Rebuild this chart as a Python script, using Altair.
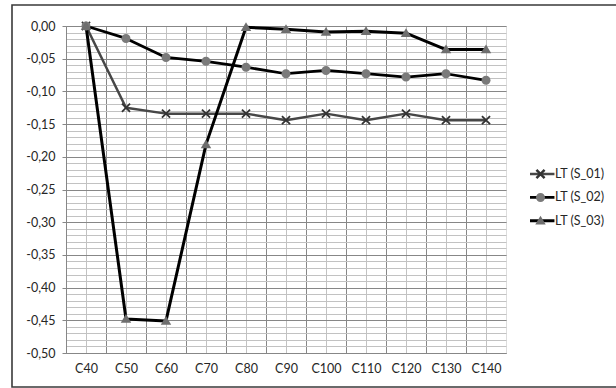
import altair as alt
import numpy as np
import pandas as pd

# Categories on the x axis and the three measured series
categories = ["C40", "C50", "C60", "C70", "C80", "C90", "C100", "C110", "C120", "C130", "C140"]
series_keys = ["S_01", "S_02", "S_03"]
series_labels = ["LT (S_01)", "LT (S_02)", "LT (S_03)"]
s01 = [0.0, -0.125, -0.134, -0.134, -0.134, -0.144, -0.134, -0.144, -0.134, -0.144, -0.144]
s02 = [0.0, -0.019, -0.048, -0.054, -0.063, -0.073, -0.068, -0.073, -0.078, -0.073, -0.083]
s03 = [0.0, -0.448, -0.451, -0.181, -0.002, -0.005, -0.009, -0.008, -0.011, -0.036, -0.036]

rows = []
for key, label, vals in zip(series_keys, series_labels, [s01, s02, s03]):
    for cat, v in zip(categories, vals):
        rows.append({"cat": cat, "key": key, "label": label, "value": v})
df = pd.DataFrame(rows)

FONT = "Lato"
FSIZE = 12.5
TEXT = "#262626"
MAJOR = "#878787"
MINOR = "#c2c2c2"

major_ticks = [round(v, 2) for v in np.arange(0, -0.5001, -0.05)]
minor_ticks = [round(v, 2) for v in np.arange(0, -0.5001, -0.01)]

y_label_expr = "replace(replace(format(datum.value, '.2f'), '.', ','), '\u2212', '-')"

# Marker paths (line segment kept out so plot markers stay compact)
x_path = "M-0.45,-0.45L0.45,0.45M-0.45,0.45L0.45,-0.45"
circle_path = "M0.5,0A0.5,0.5 0 1,1 -0.5,0A0.5,0.5 0 1,1 0.5,0Z"
tri_path = "M0,-0.55L0.58,0.42L-0.58,0.42Z"

SYM = 324
LEG_X = 464
LEG_Y = 139
ROW_H = 18
ROW_PAD = 5.4

xscale = alt.Scale(domain=categories, padding=0.5)
yscale = alt.Scale(domain=[-0.5, 0], nice=False, zero=False)

# Lines: light grid (category centres and every 0.01) plus category labels
lines = alt.Chart(df).mark_line(strokeJoin="round").encode(
    x=alt.X("cat:N", sort=categories, scale=xscale,
            axis=alt.Axis(title=None, orient="bottom", grid=True, gridColor=MINOR, gridWidth=1,
                          ticks=False, domain=False, labelAngle=0, labelFont=FONT,
                          labelFontSize=FSIZE, labelColor=TEXT, labelPadding=9)),
    y=alt.Y("value:Q", scale=yscale,
            axis=alt.Axis(title=None, orient="left", values=minor_ticks, grid=True,
                          gridColor=MINOR, gridWidth=1, ticks=False, labels=False,
                          domain=False)),
    color=alt.Color("label:N", scale=alt.Scale(domain=series_labels,
                                               range=["#474747", "#000000", "#000000"]),
                    legend=alt.Legend(title=None, orient="none", legendX=LEG_X, legendY=LEG_Y,
                                      symbolType="M-1.55,0H1.55", symbolSize=SYM,
                                      symbolStrokeWidth=2.5, labelFont=FONT, labelFontSize=FSIZE,
                                      labelColor=TEXT, labelOffset=4, clipHeight=ROW_H,
                                      rowPadding=ROW_PAD)),
    strokeWidth=alt.StrokeWidth("label:N", scale=alt.Scale(domain=series_labels,
                                                          range=[2.5, 3, 3]), legend=None),
    detail="label:N",
)

marker_legend = alt.Legend(title=None, orient="none", legendX=LEG_X, legendY=LEG_Y,
                           symbolSize=SYM, symbolStrokeWidth=2.5, labelExpr="''",
                           labelFontSize=FSIZE, clipHeight=ROW_H, rowPadding=ROW_PAD)

# Markers: dark grid (category boundaries and every 0.05) plus value labels
points = alt.Chart(df).mark_point(size=SYM, strokeWidth=1.8, opacity=1).encode(
    x=alt.X("cat:N", sort=categories, scale=xscale,
            axis=alt.Axis(title=None, orient="bottom", grid=True, gridColor=MAJOR, gridWidth=1,
                          tickOffset=-20, ticks=False, labels=False, domain=True,
                          domainColor=MAJOR, domainWidth=1)),
    y=alt.Y("value:Q", scale=yscale,
            axis=alt.Axis(title=None, orient="left", values=major_ticks, grid=True,
                          gridColor=MAJOR, gridWidth=1, ticks=True, tickColor=MAJOR,
                          tickSize=4, domain=True, domainColor=MAJOR, labelExpr=y_label_expr,
                          labelFont=FONT, labelFontSize=FSIZE, labelColor=TEXT,
                          labelPadding=7)),
    shape=alt.Shape("key:N", scale=alt.Scale(domain=series_keys,
                                             range=[x_path, circle_path, tri_path]),
                    legend=marker_legend),
    fill=alt.Fill("key:N", scale=alt.Scale(domain=series_keys,
                                           range=["transparent", "#7a7a7a", "#6e6e6e"]),
                  legend=marker_legend),
    stroke=alt.Stroke("key:N", scale=alt.Scale(domain=series_keys,
                                               range=["#333333", "transparent", "transparent"]),
                      legend=marker_legend),
)

# Outer frame around the whole figure (open on the right, beyond the canvas)
frame = alt.Chart(pd.DataFrame({"f": [0]})).mark_rect(
    fill="transparent", stroke="#3a3a3a", strokeWidth=1.6
).encode(
    x=alt.value(-54), x2=alt.value(640), y=alt.value(-21), y2=alt.value(361)
)

chart = alt.layer(lines, points, frame).resolve_axis(
    x="independent", y="independent"
).resolve_scale(
    x="shared", y="shared"
).properties(
    width=440, height=327,
    autosize=alt.AutoSizeParams(type="none"),
    padding={"left": 66, "top": 26, "right": 110, "bottom": 35},
).configure_view(
    stroke=MAJOR, strokeWidth=1
).configure(background="white")

chart.save("out.html", embed_options={"renderer": "svg", "actions": False})
